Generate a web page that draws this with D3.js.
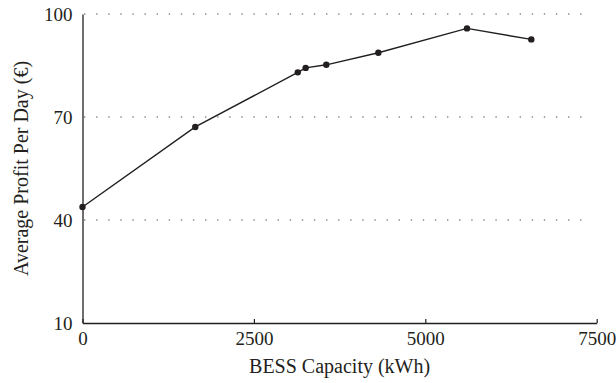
<!DOCTYPE html>
<html>
<head>
<meta charset="utf-8">
<script src="https://cdn.jsdelivr.net/npm/d3@7"></script>
<style>
  body { margin: 0; background: #fff; }
  svg text { font-family: "Liberation Serif", "DejaVu Serif", serif; fill: #231f20; }
  .axis .domain { stroke: #231f20; stroke-width: 1.3; }
  .axis line { stroke: #231f20; stroke-width: 1.2; }
  .axis text { font-size: 19px; }
  .grid { stroke: #8a8a8a; stroke-width: 1.4; stroke-dasharray: 1.4 10.7; }
</style>
</head>
<body>
<svg id="chart" width="616" height="383"></svg>
<script>
// BESS capacity (kWh) vs average profit per day (€)
const capacity = [0, 1645, 3140, 3255, 3556, 4315, 5608, 6546];
const profit = [43.8, 67.1, 83.0, 84.3, 85.2, 88.7, 95.8, 92.6];
const xTicks = [0, 2500, 5000, 7500];
const yTicks = [10, 40, 70, 100];
const gridValues = [40, 70, 100];

const padding = { top: 14, right: 19.3, bottom: 60, left: 82.5 };
const width = 616, height = 383;
const innerWidth = width - padding.left - padding.right;
const innerHeight = height - padding.top - padding.bottom;

const x = d3.scaleLinear().domain([0, 7500]).range([0, innerWidth]);
const y = d3.scaleLinear().domain([10, 100]).range([innerHeight, 0]);

const svg = d3.select("#chart")
  .append("g")
  .attr("transform", `translate(${padding.left},${padding.top})`);

// dotted gridlines
svg.selectAll(".grid")
  .data(gridValues)
  .enter()
  .append("line")
  .attr("class", "grid")
  .attr("x1", 1.5)
  .attr("x2", x(7500) - 8)
  .attr("y1", d => y(d))
  .attr("y2", d => y(d));

// axes
svg.append("g")
  .attr("class", "axis x")
  .attr("transform", `translate(0,${innerHeight})`)
  .call(d3.axisBottom(x).tickValues(xTicks).tickFormat(d3.format("d"))
    .tickSizeInner(-4).tickSizeOuter(0).tickPadding(9))
  .selectAll("text").attr("dy", "0.71em");

svg.append("g")
  .attr("class", "axis y")
  .call(d3.axisLeft(y).tickValues(yTicks).tickSize(0).tickPadding(10))
  .selectAll("text").attr("dy", "0.35em");

// line + points
const line = d3.line()
  .x((d, i) => x(capacity[i]))
  .y(d => y(d));

svg.append("path")
  .datum(profit)
  .attr("fill", "none")
  .attr("stroke", "#231f20")
  .attr("stroke-width", 1.4)
  .attr("d", line);

svg.selectAll(".pt")
  .data(profit)
  .enter()
  .append("circle")
  .attr("class", "pt")
  .attr("cx", (d, i) => x(capacity[i]))
  .attr("cy", d => y(d))
  .attr("r", 3.2)
  .attr("fill", "#231f20");

// axis titles
svg.append("text")
  .attr("x", innerWidth / 2)
  .attr("y", innerHeight + 50)
  .attr("text-anchor", "middle")
  .style("font-size", "20px")
  .text("BESS Capacity (kWh)");

svg.append("text")
  .attr("transform", `translate(${28 - padding.left},${innerHeight / 2})rotate(-90)`)
  .attr("text-anchor", "middle")
  .style("font-size", "20px")
  .text("Average Profit Per Day (€)");
</script>
</body>
</html>
